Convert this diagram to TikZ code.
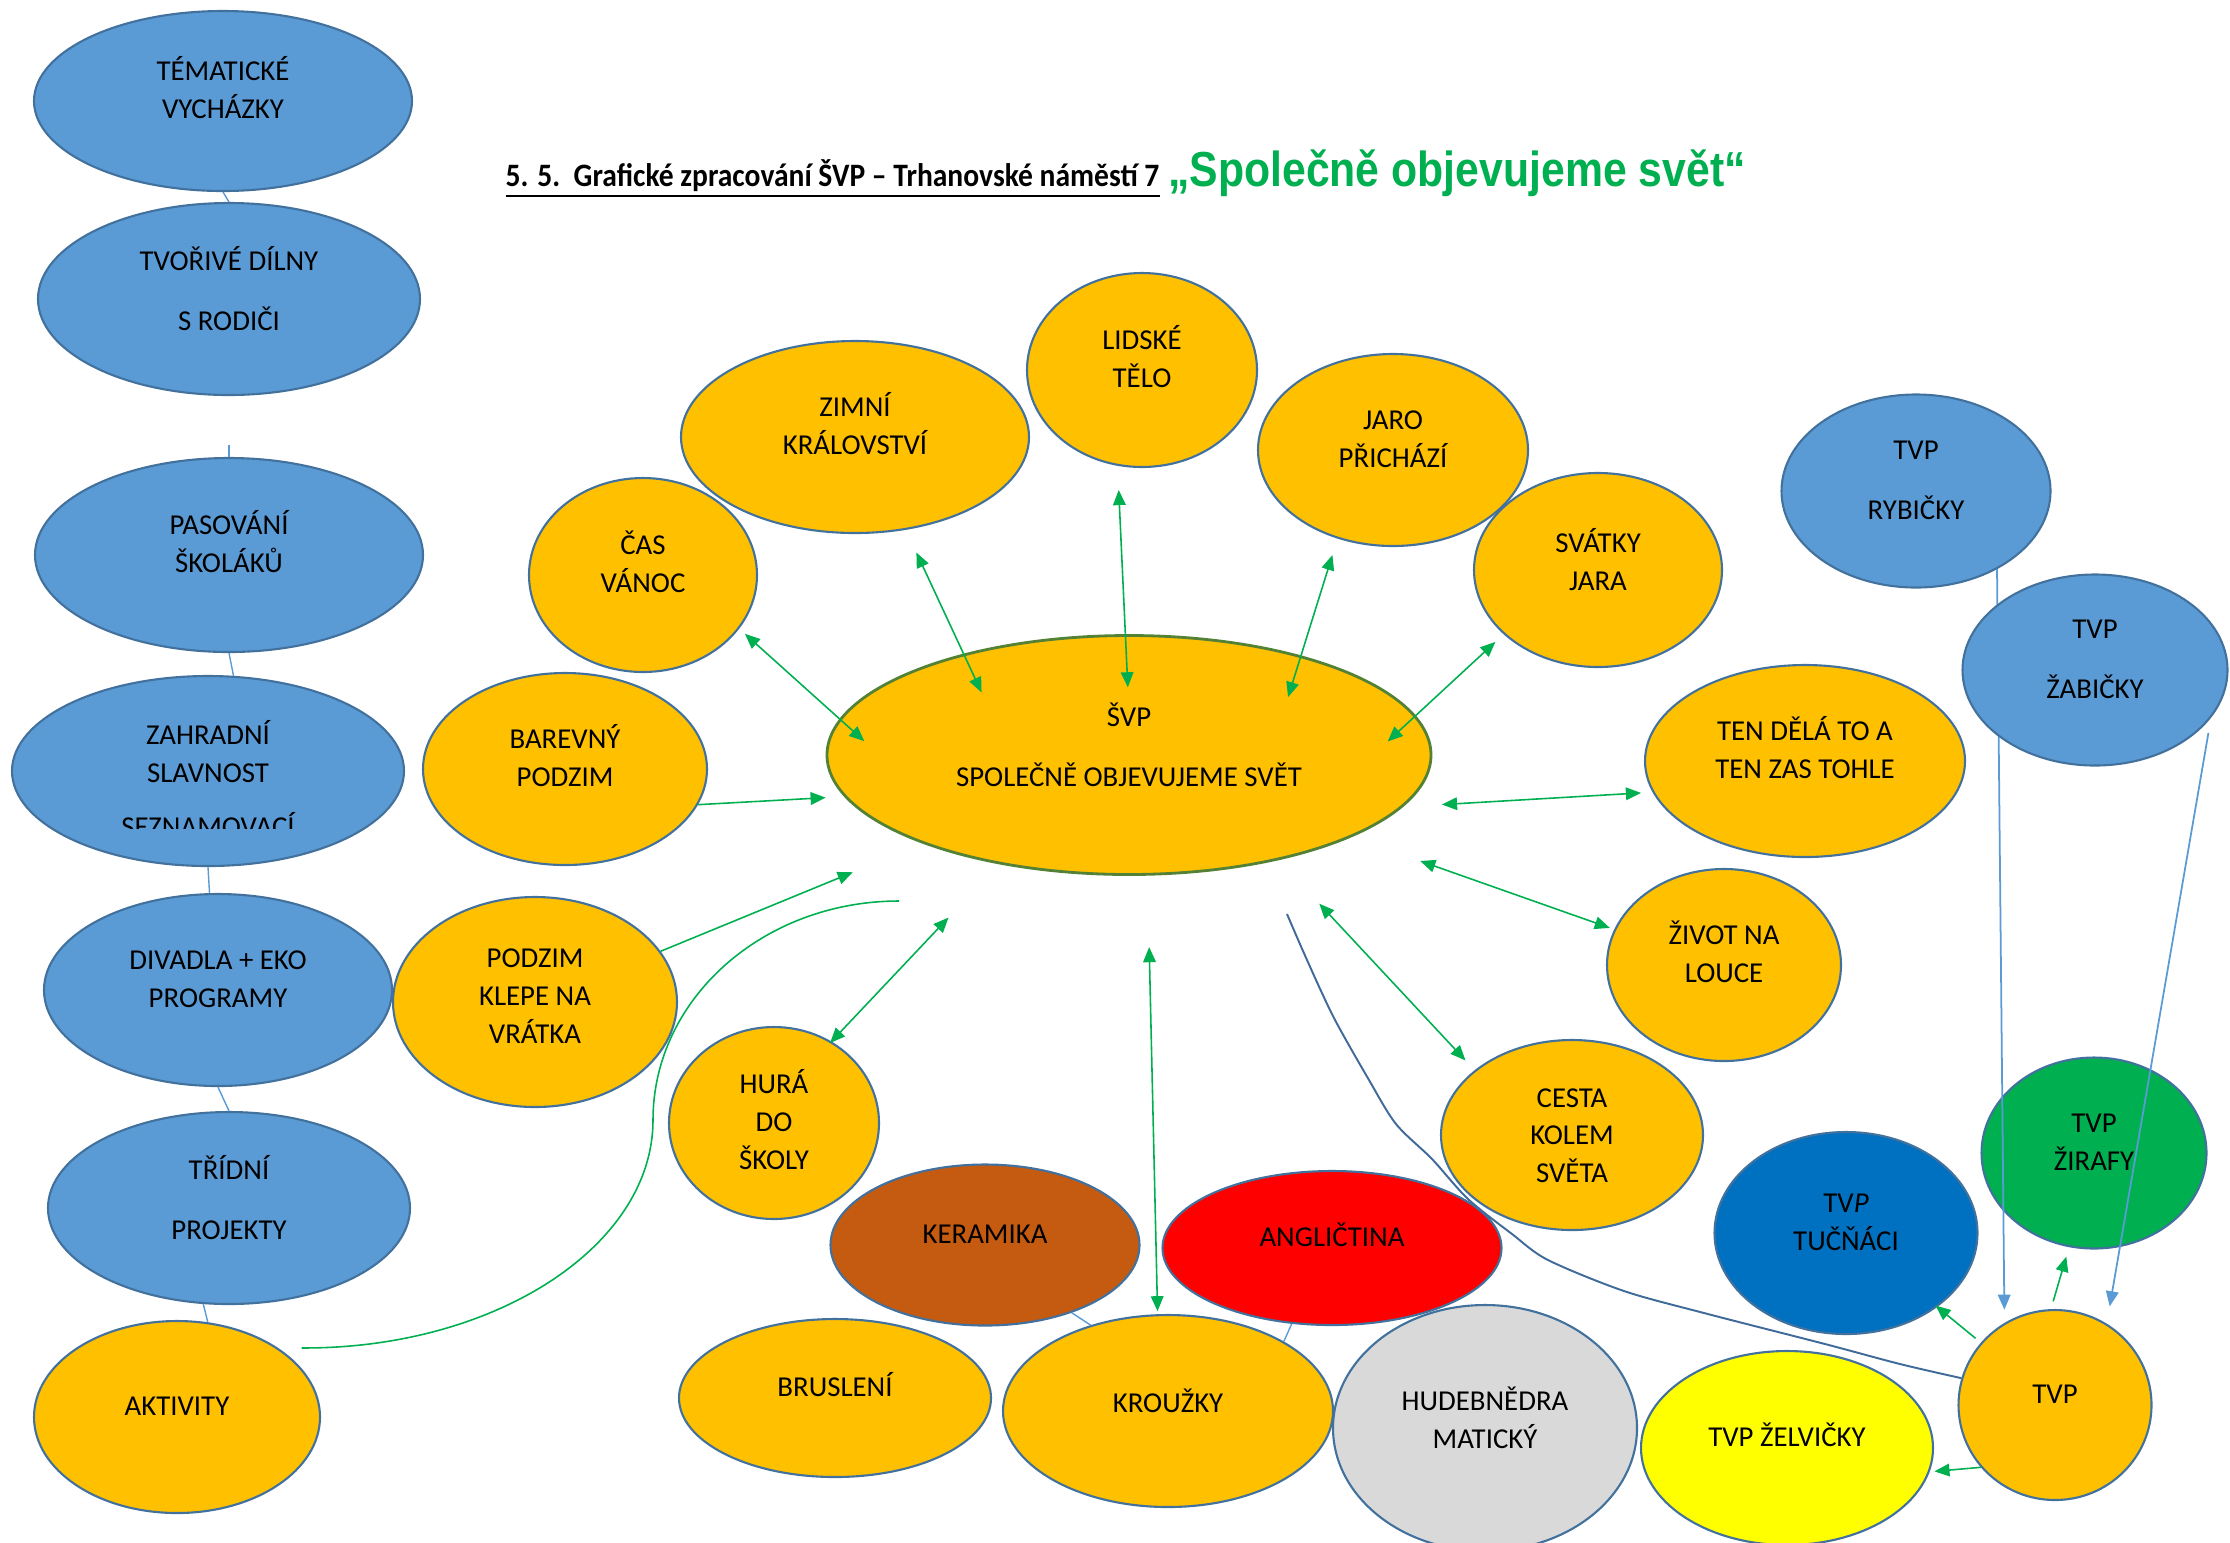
\documentclass[tikz,border=0pt]{standalone}
\usepackage{fontspec}
\usepackage{tikz}
\usetikzlibrary{arrows.meta, shapes.geometric, calc}
\newfontfamily\calib{Carlito}
\newfontfamily\calibnarrow{Carlito}[FakeStretch=0.904]
\newfontfamily\arialnarrow{Liberation Sans}[FakeStretch=0.869]
\newcommand\bubfont{\calib\fontsize{8.2pt}{10.8pt}\selectfont}
\definecolor{sky}{HTML}{5B9BD5}
\definecolor{gold}{HTML}{FFC000}
\definecolor{edge}{HTML}{41719C}
\definecolor{moss}{HTML}{538135}
\definecolor{leaf}{HTML}{00B050}
\definecolor{clay}{HTML}{C55A11}
\definecolor{scarlet}{HTML}{FF0000}
\definecolor{ash}{HTML}{D9D9D9}
\definecolor{lemon}{HTML}{FFFF00}
\definecolor{ocean}{HTML}{0070C0}
\definecolor{wire}{HTML}{3F6A9A}
\tikzset{
	bub/.style={ellipse, draw=edge, line width=0.6pt, inner sep=0pt, fill=#1},
	txt/.style={font=\bubfont, align=center, yshift=3pt},
	txtup/.style={txt, yshift=0.7pt},
	tie/.style={sky, line width=0.4pt},
	pair/.style={leaf, line width=0.45pt, arrows={Triangle[length=4.3pt, width=3.6pt]-Triangle[length=4.3pt, width=3.6pt]}},
	feed/.style={leaf, line width=0.45pt, arrows={-Triangle[length=4.3pt, width=3.6pt]}},
	drop/.style={sky, line width=0.5pt, arrows={-Triangle[length=4.3pt, width=3.6pt]}},
}

\begin{document}
\begin{tikzpicture}[x=0.1mm, y=-0.1mm]
		\useasboundingbox (0,0) rectangle (2230,1542);
		\clip (0,0) rectangle (2230,1542);

		% title
		\node[anchor=base west, inner sep=0pt] (title) at (505,186) {\calibnarrow\bfseries\fontsize{9.3pt}{11pt}\selectfont\underline{5. 5.\ \ Grafické zpracování ŠVP – Trhanovské náměstí 7}\hspace{2.5pt}{\arialnarrow\bfseries\fontsize{14pt}{16pt}\selectfont\color{leaf}„Společně objevujeme svět“}};

		% left column
		\node[bub=sky, minimum width=37.8mm, minimum height=18mm, label={[txtup]center:{TÉMATICKÉ\\VYCHÁZKY}}] (tema) at (223,101) {};
		\node[bub=sky, minimum width=38.2mm, minimum height=19.2mm, label={[txt]center:{TVOŘIVÉ DÍLNY\\[6.2pt]S RODIČI}}] (dilny) at (229,299) {};
		\node[bub=sky, minimum width=38.8mm, minimum height=19.4mm, label={[txtup]center:{PASOVÁNÍ\\ŠKOLÁKŮ}}] (pasovani) at (229,555) {};
		\node[bub=sky, minimum width=39.2mm, minimum height=19mm, label={[txt, yshift=2.5pt]center:{ZAHRADNÍ\\SLAVNOST}}] (slavnost) at (208,771) {};
		\begin{scope}
			\clip (0,800) rectangle (420,828);
			\node[font=\bubfont, anchor=base, inner sep=0pt] (seznam) at (208,836) {SEZNAMOVACÍ};
		\end{scope}
		\node[bub=sky, minimum width=34.8mm, minimum height=19.2mm, label={[txt]center:{DIVADLA + EKO\\PROGRAMY}}] (divadla) at (218,990) {};
		\node[bub=sky, minimum width=36.2mm, minimum height=19.2mm, label={[txt]center:{TŘÍDNÍ\\[6.2pt]PROJEKTY}}] (tridni) at (229,1208) {};
		\node[bub=gold, minimum width=28.6mm, minimum height=19.2mm, label={[txt]center:{AKTIVITY}}] (aktivity) at (177,1417) {};

		% topics round the centre
		\node[bub=gold, minimum width=34.8mm, minimum height=19.2mm, label={[txtup]center:{ZIMNÍ\\KRÁLOVSTVÍ}}] (zimni) at (855,437) {};
		\node[bub=gold, minimum width=23mm, minimum height=19.4mm, label={[txtup]center:{LIDSKÉ\\TĚLO}}] (lidske) at (1142,370) {};
		\node[bub=gold, minimum width=27mm, minimum height=19.2mm, label={[txt]center:{JARO\\PŘICHÁZÍ}}] (jaro) at (1393,450) {};
		\node[bub=gold, minimum width=24.8mm, minimum height=19.4mm, label={[txt]center:{SVÁTKY\\JARA}}] (svatky) at (1598,570) {};
		\node[bub=gold, minimum width=22.8mm, minimum height=19.4mm, label={[txtup]center:{ČAS\\VÁNOC}}] (cas) at (643,575) {};
		\node[bub=gold, minimum width=28.4mm, minimum height=19.2mm, label={[txtup]center:{BAREVNÝ\\PODZIM}}] (barevny) at (565,769) {};
		\node[bub=gold, draw=moss, line width=0.8pt, minimum width=60.4mm, minimum height=23.9mm, label={[txt]center:{ŠVP\\[6.2pt]SPOLEČNĚ OBJEVUJEME SVĚT}}] (svp) at (1129,755) {};
		\node[bub=gold, minimum width=32mm, minimum height=19.2mm, label={[txtup]center:{TEN DĚLÁ TO A\\TEN ZAS TOHLE}}] (tendela) at (1805,761) {};
		\node[bub=gold, minimum width=23.4mm, minimum height=19.2mm, label={[txtup]center:{ŽIVOT NA\\LOUCE}}] (zivot) at (1724,965) {};
		\node[bub=gold, minimum width=28.4mm, minimum height=21mm, label={[txt, yshift=-1.2pt]center:{PODZIM\\KLEPE NA\\VRÁTKA}}] (podzim) at (535,1002) {};
		\node[bub=gold, minimum width=21mm, minimum height=19.2mm, label={[txt, yshift=-2pt]center:{HURÁ\\DO\\ŠKOLY}}] (hura) at (774,1123) {};
		\node[bub=gold, minimum width=26.2mm, minimum height=19mm, label={[txt, yshift=-3.2pt]center:{CESTA\\KOLEM\\SVĚTA}}] (cesta) at (1572,1135) {};

		% bottom row
		\node[bub=clay, minimum width=30.9mm, minimum height=16.1mm, label={[txt]center:{KERAMIKA}}] (keramika) at (985,1245) {};
		\node[bub=scarlet, minimum width=33.9mm, minimum height=15.4mm, label={[txtup]center:{ANGLIČTINA}}] (anglictina) at (1332,1248) {};
		\node[bub=gold, minimum width=31.2mm, minimum height=15.8mm, label={[txtup]center:{BRUSLENÍ}}] (brusleni) at (835,1398) {};
		\node[bub=gold, minimum width=33mm, minimum height=19.2mm, label={[txt]center:{KROUŽKY}}] (krouzky) at (1168,1411) {};
		\node[bub=ash, minimum width=30.4mm, minimum height=24.6mm, label={[txt]center:{HUDEBNĚDRA\\MATICKÝ}}] (hudebni) at (1485,1428) {};
		\node[bub=lemon, minimum width=29.2mm, minimum height=19.4mm, label={[txtup]center:{TVP ŽELVIČKY}}] (zelvicky) at (1787,1448) {};

		% TVP group
		\node[bub=gold, minimum width=19.3mm, minimum height=19mm, label={[txt]center:{TVP}}] (tvp) at (2055,1405) {};
		\node[bub=ocean, minimum width=26.3mm, minimum height=20.2mm, label={[txt]center:{TV\textit{P}\\TUČŇÁCI}}] (tucnaci) at (1846,1233) {};
		\node[bub=leaf, minimum width=22.5mm, minimum height=19.1mm, label={[txt]center:{TVP\\ŽIRAFY}}] (zirafy) at (2094,1153) {};
		\node[bub=sky, minimum width=26.9mm, minimum height=19.3mm, label={[txt]center:{TVP\\[6.2pt]RYBIČKY}}] (rybicky) at (1916,491) {};
		\draw[drop] (rybicky.-44) -- ($(tvp.center)!1.12!(tvp.118)$);
		\node[bub=sky, minimum width=26.5mm, minimum height=19.1mm, label={[txt]center:{TVP\\[6.2pt]ŽABIČKY}}] (zabicky) at (2095,670) {};
		\draw[drop] ($(zabicky.center)!1.07!(zabicky.-29)$) -- ($(tvp.center)!1.17!(tvp.61)$);

		% thin links of the left column
		\coordinate (stub) at (229,445);
		\draw[tie] (tema.south) -- (dilny.north);
		\draw[tie] (stub) -- (pasovani.north);
		\draw[tie] (pasovani.south) -- (slavnost.75);
		\draw[tie] (slavnost.south) -- (divadla.95);
		\draw[tie] (divadla.south) -- (tridni.north);
		\draw[tie] (tridni.255) -- (aktivity.72);
		\draw[tie] (keramika.-38) -- (krouzky.132);
		\draw[tie] (anglictina.242) -- (krouzky.31);

		% arrows to the centre
		\draw[pair] ($(cas.center)!1.07!(cas.-30)$) -- ($(svp.center)!0.88!(svp.177)$);
		\draw[pair] ($(zimni.center)!1.24!(zimni.-62)$) -- ($(svp.center)!0.71!(svp.157)$);
		\draw[pair] ($(lidske.center)!1.24!(lidske.-101)$) -- ($(svp.center)!0.56!(svp.91)$);
		\draw[pair] ($(jaro.center)!1.17!(jaro.-120)$) -- ($(svp.center)!0.71!(svp.20)$);
		\draw[pair] ($(svatky.center)!1.10!(svatky.-145)$) -- ($(svp.center)!0.86!(svp.3)$);
		\draw[feed] (barevny.-15) -- ($(svp.center)!1.06!(svp.188)$);
		\draw[pair] ($(svp.center)!1.11!(svp.-9)$) -- ($(tendela.center)!1.07!(tendela.191)$);
		\draw[pair] ($(svp.center)!1.30!(svp.-20)$) -- ($(zivot.center)!1.04!(zivot.162)$);
		\draw[feed] (podzim.22) -- ($(svp.center)!1.33!(svp.-157)$);
		\draw[pair] ($(hura.center)!0.98!(hura.55)$) -- ($(svp.center)!1.47!(svp.-138)$);
		\draw[pair] ($(krouzky.center)!1.03!(krouzky.96)$) -- ($(svp.center)!1.59!(svp.-84)$);
		\draw[pair] ($(svp.center)!1.38!(svp.-38)$) -- ($(cesta.center)!1.12!(cesta.145)$);

		% arrows from TVP
		\draw[feed] ($(tvp.center)!1.08!(tvp.91)$) -- ($(zirafy.center)!1.10!(zirafy.-105)$);
		\draw[feed] ($(tvp.center)!1.07!(tvp.140)$) -- ($(tucnaci.center)!0.98!(tucnaci.-39)$);
		\draw[feed] (tvp.-140) -- ($(zelvicky.center)!1.03!(zelvicky.-9)$);

		% curves
		\coordinate (swirl) at (899,901);
		\draw[leaf, line width=0.45pt] (swirl) .. controls (763,901) and (653,999) .. (653,1120) .. controls (653,1246) and (495,1349) .. ($(aktivity.center)!1.12!(aktivity.29)$);
		\coordinate (wave) at (1287,914);
		\coordinate (wave end) at (tvp.164);
		\draw[wire, line width=0.55pt] plot[smooth, tension=0.5] coordinates {(wave) (1307,960) (1334,1018) (1369,1080) (1396,1124) (1432,1159) (1468,1199) (1512,1234) (1548,1260) (1624,1291) (1704,1313) (1825,1344) (1900,1364) (wave end)};

	\end{tikzpicture}
\end{document}
